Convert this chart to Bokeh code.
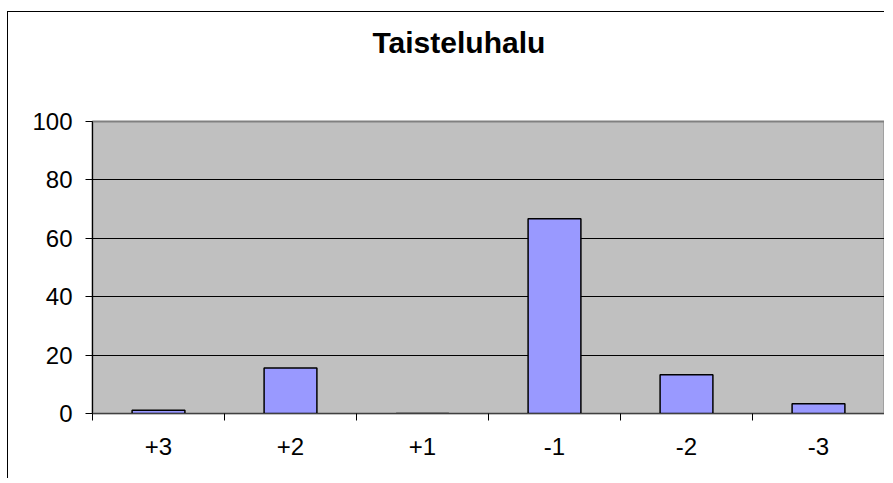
from bokeh.plotting import figure
from bokeh.models import FixedTicker, Range1d, Title
from bokeh.embed import file_html
from bokeh.resources import INLINE
import numpy as np

title_text = "Taisteluhalu"
categories = ["+3", "+2", "+1", "-1", "-2", "-3"]
values = [1.1, 15.6, 0.0, 66.7, 13.3, 3.3]
y_ticks = [0, 20, 40, 60, 80, 100]

centers = np.arange(len(categories)) + 0.5
edges = list(np.arange(len(categories) + 1).astype(float))

p = figure(width=877, height=467, output_backend="svg", toolbar_location=None,
           x_range=Range1d(0, len(categories)), y_range=Range1d(0, 100),
           min_border_left=84, min_border_right=1, min_border_top=109, min_border_bottom=66,
           background_fill_color="#C0C0C0", border_fill_color="white",
           styles={"border-left": "1px solid black", "border-top": "1px solid black",
                   "margin-left": "7px", "margin-top": "11px"})

# empty spacer between the frame and the title
p.add_layout(Title(text=" ", text_font_size="10px", standoff=48), "above")

p.title = Title(text=title_text, align="left", offset=280, vertical_align="top",
                text_font="Liberation Sans", text_font_size="30px",
                text_font_style="bold", text_color="black", standoff=0)

p.vbar(x=centers, top=values, width=0.4, fill_color="#9999FF",
       line_color="black", line_width=1.5)

p.outline_line_color = "#808080"
p.outline_line_width = 2

# grid
p.xgrid.grid_line_color = None
p.ygrid.ticker = FixedTicker(ticks=y_ticks)
p.ygrid.grid_line_color = "black"
p.ygrid.grid_line_width = 1

# y axis
p.yaxis.ticker = FixedTicker(ticks=y_ticks)
p.yaxis.major_label_text_font = "Liberation Sans"
p.yaxis.major_label_text_font_size = "24px"
p.yaxis.major_label_text_color = "black"
p.yaxis.major_tick_in = 0
p.yaxis.major_tick_out = 7
p.yaxis.minor_tick_line_color = None
p.yaxis.major_label_standoff = 13
p.yaxis.axis_line_color = "black"
p.yaxis.major_tick_line_color = "black"

# x axis: labels at centers, tick marks at category edges
p.xaxis.ticker = FixedTicker(ticks=list(centers), minor_ticks=edges)
p.xaxis.major_label_overrides = {float(c): lab for c, lab in zip(centers, categories)}
p.xaxis.major_tick_line_color = None
p.xaxis.minor_tick_in = 0
p.xaxis.minor_tick_out = 7
p.xaxis.minor_tick_line_color = "black"
p.xaxis.axis_line_color = "#404040"
p.xaxis.major_label_text_font = "Liberation Sans"
p.xaxis.major_label_text_font_size = "24px"
p.xaxis.major_label_text_color = "black"
p.xaxis.major_label_standoff = 17

open("out.html", "w").write(file_html(p, INLINE))
